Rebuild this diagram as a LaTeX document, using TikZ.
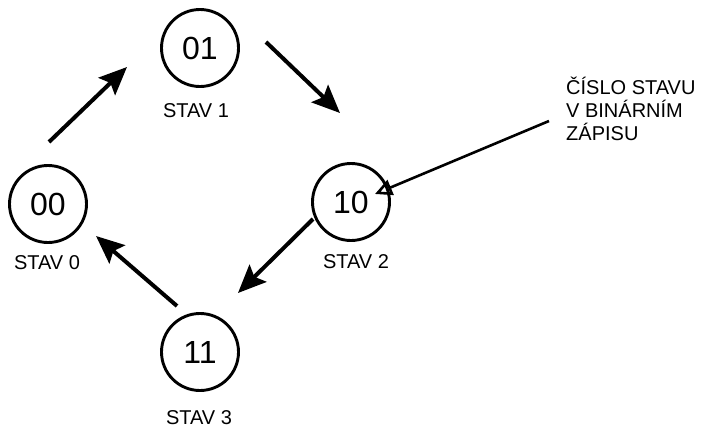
\documentclass[tikz,border=0pt]{standalone}
\usepackage{fontspec}
\setmainfont{Liberation Sans}
\usetikzlibrary{arrows.meta}
\begin{document}
\begin{tikzpicture}[x=1pt,y=-1pt,
  state/.style={circle,draw,line width=2.9pt,minimum size=77pt,inner sep=0pt,font=\fontsize{32}{38}\selectfont},
  lbl/.style={font=\fontsize{20}{23}\selectfont,inner sep=0pt},
  bigarrow/.style={line width=4pt,-{Stealth[length=28pt,width=24pt,inset=5pt]}},
  thinarrow/.style={line width=2.6pt,-{Triangle[open,length=17pt,width=16pt]}}]
\useasboundingbox (0,0) rectangle (707,429);
\node[state] (s0) at (48,204) {00};
\node[state] (s1) at (200,48) {01};
\node[state] (s2) at (351,202) {10};
\node[state] (s3) at (200,352) {11};
\node[lbl] (l0) at (47,263) {STAV 0};
\node[lbl] (l1) at (196,111) {STAV 1};
\node[lbl] (l2) at (356,262) {STAV 2};
\node[lbl] (l3) at (199,418) {STAV 3};
\node[lbl,align=left,anchor=north west] (note) at (566,77) {ČÍSLO STAVU\\V BINÁRNÍM\\ZÁPISU};
\coordinate (a1s) at (49,142); \coordinate (a1e) at (127,67);
\coordinate (a2s) at (266,42); \coordinate (a2e) at (340,113);
\coordinate (a3s) at (313,219); \coordinate (a3e) at (238,293);
\coordinate (a4s) at (177,306); \coordinate (a4e) at (96,236);
\coordinate (a5s) at (549,121); \coordinate (a5e) at (375,194);
\draw[bigarrow] (a1s) -- (a1e);
\draw[bigarrow] (a2s) -- (a2e);
\draw[bigarrow] (a3s) -- (a3e);
\draw[bigarrow] (a4s) -- (a4e);
\draw[thinarrow] (a5s) -- (a5e);
\end{tikzpicture}
\end{document}
